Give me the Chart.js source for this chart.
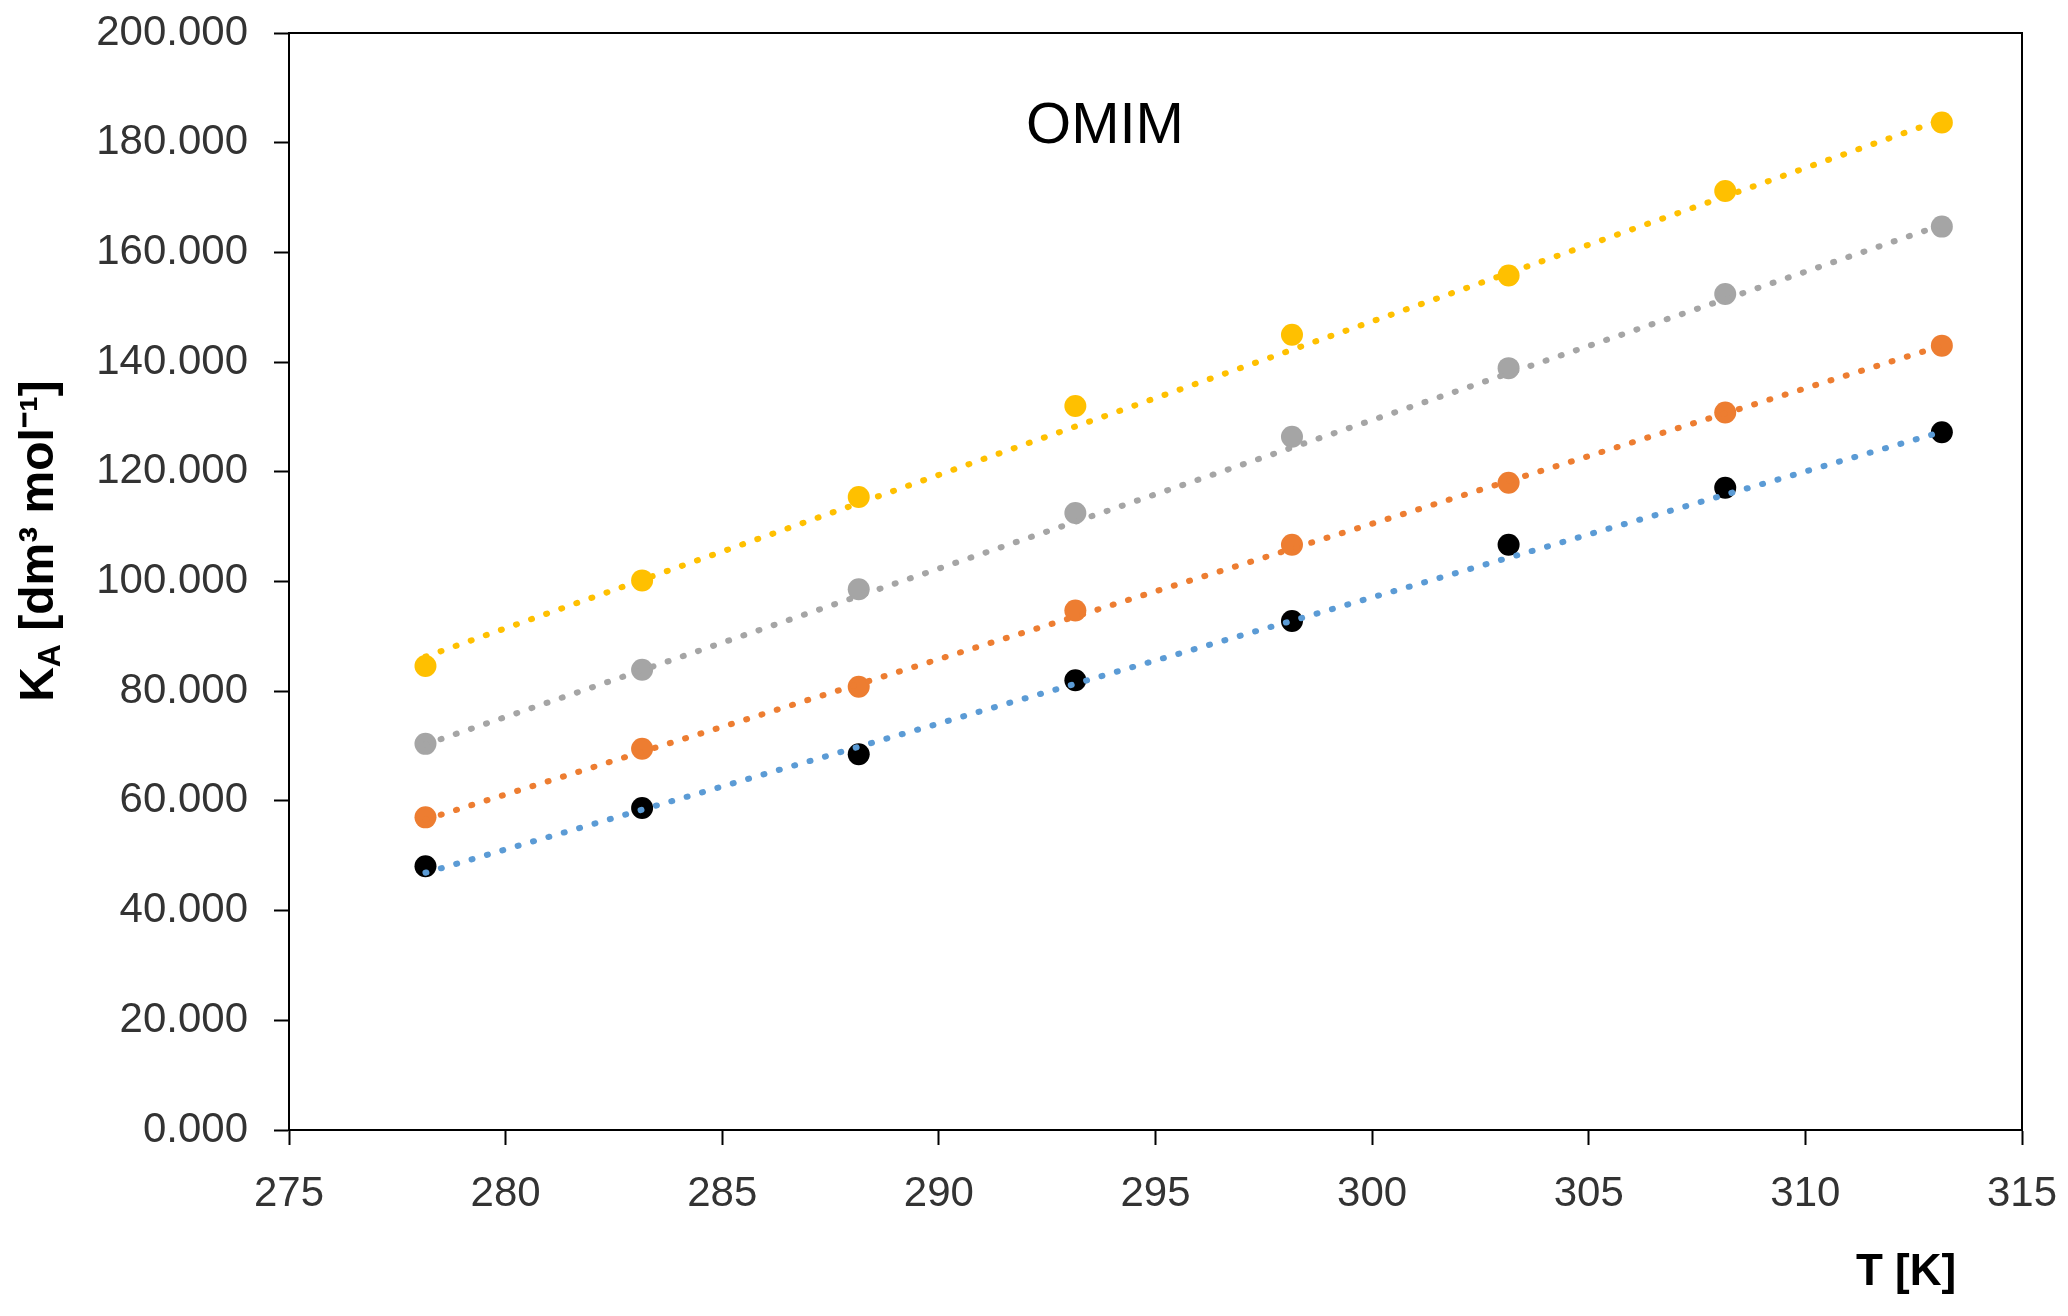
<!DOCTYPE html>
<html>
<head>
<meta charset="utf-8">
<script src="https://cdn.jsdelivr.net/npm/chart.js@4.4.1/dist/chart.umd.min.js"></script>
<style>
  html, body { margin: 0; padding: 0; background: #fff; }
  #wrap { width: 2068px; height: 1316px; }
</style>
</head>
<body>
<div id="wrap"><canvas id="omimChart"></canvas></div>
<script>
// temperatures [K]
var temps = [278.15, 283.15, 288.15, 293.15, 298.15, 303.15, 308.15, 313.15];

// K_A values
var kaYellow = [84.6, 100.2, 115.4, 132.0, 145.0, 155.8, 171.2, 183.7];
var kaGray   = [70.4, 83.9, 98.6, 112.5, 126.4, 138.9, 152.4, 164.7];
var kaOrange = [57.0, 69.5, 80.8, 94.7, 106.7, 118.0, 130.8, 143.0];
var kaBlack  = [48.1, 58.7, 68.5, 82.0, 92.8, 106.7, 117.1, 127.2];

// dotted trend lines, start and end values as drawn
var trendT      = [278.15, 313.15];
var trendYellow = [86.3, 184.2];
var trendGray   = [70.3, 165.0];
var trendOrange = [56.6, 143.0];
var trendBlue   = [46.9, 127.3];

var xTicks = [275, 280, 285, 290, 295, 300, 305, 310, 315];
var yTicks = [0, 20, 40, 60, 80, 100, 120, 140, 160, 180, 200];

function pts(xs, ys) {
	return xs.map(function (x, i) { return { x: x, y: ys[i] }; });
}

function pointSet(label, ys, color) {
	return {
		label: label,
		data: pts(temps, ys),
		showLine: false,
		pointRadius: 11,
		pointHoverRadius: 11,
		pointBackgroundColor: color,
		pointBorderColor: color,
		pointBorderWidth: 0,
		order: 2
	};
}

function trendSet(label, ys, color) {
	return {
		label: label,
		data: pts(trendT, ys),
		showLine: true,
		pointRadius: 0,
		borderColor: color,
		borderWidth: 6,
		borderDash: [1, 15],
		borderCapStyle: 'round',
		fill: false,
		order: 1
	};
}

var FONT = "'Liberation Sans', Arial, sans-serif";

// box around the plot area plus the free texts
var extras = {
	id: 'extras',
	afterDraw: function (chart) {
		var c = chart.ctx, a = chart.chartArea;
		c.save();
		c.strokeStyle = '#000';
		c.lineWidth = 2;
		c.strokeRect(a.left, a.top, a.right - a.left, a.bottom - a.top);

		c.fillStyle = '#000';
		c.textAlign = 'center';
		c.textBaseline = 'middle';
		c.font = '58px ' + FONT;
		c.fillText('OMIM', 1105, 127);

		c.font = 'bold 44px ' + FONT;
		c.fillText('T [K]', 1906, 1273);

		// y title with subscript A
		c.translate(40, 541);
		c.rotate(-Math.PI / 2);
		var main = 'K', sub = 'A', rest = ' [dm³ mol⁻¹]';
		c.font = 'bold 48px ' + FONT;
		var wK = c.measureText(main).width;
		var wR = c.measureText(rest).width;
		c.font = 'bold 32px ' + FONT;
		var wS = c.measureText(sub).width;
		var x0 = -(wK + wS + wR) / 2;
		c.textAlign = 'left';
		c.font = 'bold 48px ' + FONT;
		c.fillText(main, x0, 0);
		c.font = 'bold 32px ' + FONT;
		c.fillText(sub, x0 + wK, 11);
		c.font = 'bold 48px ' + FONT;
		c.fillText(rest, x0 + wK + wS, 0);
		c.restore();
	}
};

var ctx = document.getElementById('omimChart').getContext('2d');

var omimChart = new Chart(ctx, {
	type: 'scatter',
	data: {
		datasets: [
			trendSet('trend yellow', trendYellow, '#FFC000'),
			trendSet('trend gray', trendGray, '#A5A5A5'),
			trendSet('trend orange', trendOrange, '#ED7D31'),
			trendSet('trend blue', trendBlue, '#5B9BD5'),
			pointSet('yellow', kaYellow, '#FFC000'),
			pointSet('gray', kaGray, '#A5A5A5'),
			pointSet('orange', kaOrange, '#ED7D31'),
			pointSet('black', kaBlack, '#000000')
		]
	},
	options: {
		responsive: true,
		maintainAspectRatio: false,
		animation: false,
		devicePixelRatio: 1,
		layout: { padding: { top: 33, right: 46, left: 0, bottom: 0 } },
		plugins: {
			legend: { display: false },
			tooltip: { enabled: false }
		},
		scales: {
			x: {
				type: 'linear',
				min: 275,
				max: 315,
				afterBuildTicks: function (s) {
					s.ticks = xTicks.map(function (v) { return { value: v }; });
				},
				afterFit: function (s) {
					s.height = 186;
					s.paddingLeft = 0;
					s.paddingRight = 0;
				},
				grid: {
					drawOnChartArea: false,
					drawTicks: true,
					tickLength: 15,
					tickColor: '#000',
					tickWidth: 2
				},
				border: { color: '#000', width: 2 },
				ticks: {
					color: '#333',
					padding: 24,
					maxRotation: 0,
					font: { family: FONT, size: 42 }
				}
			},
			y: {
				type: 'linear',
				min: 0,
				max: 200,
				afterBuildTicks: function (s) {
					s.ticks = yTicks.map(function (v) { return { value: v }; });
				},
				afterFit: function (s) {
					s.width = 289;
					s.paddingTop = 0;
					s.paddingBottom = 0;
				},
				grid: {
					drawOnChartArea: false,
					drawTicks: true,
					tickLength: 15,
					tickColor: '#000',
					tickWidth: 2
				},
				border: { color: '#000', width: 2 },
				ticks: {
					color: '#333',
					padding: 26,
					font: { family: FONT, size: 42 },
					callback: function (v) { return v.toFixed(3); }
				}
			}
		}
	},
	plugins: [extras]
});
</script>
</body>
</html>
